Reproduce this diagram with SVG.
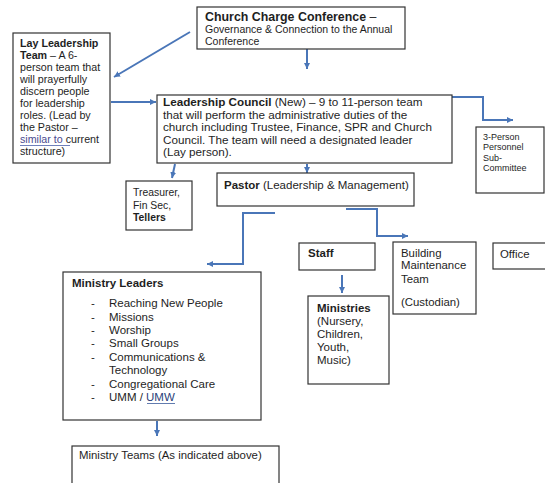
<svg xmlns="http://www.w3.org/2000/svg" width="545" height="483" viewBox="0 0 545 483">
<style>
.box{fill:#fff;stroke:#333;stroke-width:1.2}
.t{font-family:"Liberation Sans",Arial,sans-serif;fill:#1e1e1e}
.b{font-weight:bold}
.c{fill:none;stroke:#4a76b8;stroke-width:2;marker-end:url(#ah)}
</style>
<defs>
<marker id="ah" markerUnits="userSpaceOnUse" markerWidth="8" markerHeight="8" refX="6" refY="3" orient="auto">
<path d="M0,0 L6,3 L0,6 Z" fill="#4a76b8"/>
</marker>
</defs>
<rect width="545" height="483" fill="#fff"/>

<g id="connectors">
<line class="c" x1="190" y1="32" x2="114" y2="77"/>
<line class="c" x1="307" y1="49" x2="307" y2="69"/>
<line class="c" x1="111" y1="102" x2="156" y2="102"/>
<polyline class="c" points="452,97 483,97 483,120 513,120"/>
<line class="c" x1="175" y1="164" x2="172" y2="178"/>
<line class="c" x1="307" y1="164" x2="307" y2="173"/>
<polyline class="c" points="275,213 243,213 243,264 207,264"/>
<polyline class="c" points="346,209 377,209 377,236 408,236"/>
<line class="c" x1="342" y1="275" x2="342" y2="293"/>
<line class="c" x1="157" y1="421" x2="157" y2="436"/>
</g>

<g id="church-charge-conference">
<rect class="box" x="197" y="7" width="208" height="42"/>
<text class="t b" x="205" y="21" font-size="12.4">Church Charge Conference <tspan font-weight="normal">–</tspan></text>
<text class="t" x="205" y="33" font-size="10.5">Governance &amp; Connection to the Annual</text>
<text class="t" x="205" y="44.5" font-size="10.5">Conference</text>
</g>

<g id="lay-leadership-team">
<rect class="box" x="13" y="33" width="97" height="130"/>
<g class="t" font-size="10.7">
<text x="20" y="47" class="b">Lay Leadership</text>
<text x="20" y="59"><tspan font-weight="bold">Team</tspan> – A 6-</text>
<text x="20" y="71">person team that</text>
<text x="20" y="83">will prayerfully</text>
<text x="20" y="95">discern people</text>
<text x="20" y="107">for leadership</text>
<text x="20" y="119">roles. (Lead by</text>
<text x="20" y="131">the Pastor –</text>
<text x="20" y="143"><tspan fill="#4b4b8f">similar to</tspan> current</text>
<text x="20" y="155">structure)</text>
</g>
<line x1="20" y1="145.5" x2="70" y2="145.5" stroke="#4b5fa8" stroke-width="0.8"/>
</g>

<g id="leadership-council">
<rect class="box" x="157" y="95" width="295" height="68"/>
<g class="t" font-size="11.7">
<text x="163" y="106"><tspan font-weight="bold">Leadership Council</tspan> (New) – 9 to 11-person team</text>
<text x="163" y="118.6">that will perform the administrative duties of the</text>
<text x="163" y="131.2">church including Trustee, Finance, SPR and Church</text>
<text x="163" y="143.8">Council. The team will need a designated leader</text>
<text x="163" y="156.4">(Lay person).</text>
</g>
</g>

<g id="personnel-subcommittee">
<rect class="box" x="476" y="127" width="68" height="66"/>
<g class="t" font-size="9">
<text x="483" y="139.5">3-Person</text>
<text x="483" y="150">Personnel</text>
<text x="483" y="160.5">Sub-</text>
<text x="483" y="171">Committee</text>
</g>
</g>

<g id="treasurer">
<rect class="box" x="126" y="181" width="66" height="49"/>
<g class="t" font-size="10.4">
<text x="133" y="196">Treasurer,</text>
<text x="133" y="209">Fin Sec,</text>
<text x="133" y="221" class="b">Tellers</text>
</g>
</g>

<g id="pastor">
<rect class="box" x="217" y="173" width="197" height="33"/>
<text class="t" x="224" y="189" font-size="11.5"><tspan font-weight="bold">Pastor</tspan> (Leadership &amp; Management)</text>
</g>

<g id="staff">
<rect class="box" x="299" y="243" width="76" height="27"/>
<text class="t b" x="308" y="257" font-size="11.5">Staff</text>
</g>

<g id="building-maintenance">
<rect class="box" x="393" y="242" width="83" height="72"/>
<g class="t" font-size="11.4">
<text x="401" y="257">Building</text>
<text x="401" y="269">Maintenance</text>
<text x="401" y="283">Team</text>
<text x="401" y="306">(Custodian)</text>
</g>
</g>

<g id="office">
<rect class="box" x="493" y="243" width="55" height="26"/>
<text class="t" x="500" y="258" font-size="11.4">Office</text>
</g>

<g id="ministries">
<rect class="box" x="308" y="296" width="81" height="88"/>
<g class="t" font-size="11.5">
<text x="317" y="312" class="b">Ministries</text>
<text x="317" y="325">(Nursery,</text>
<text x="317" y="338">Children,</text>
<text x="317" y="351">Youth,</text>
<text x="317" y="364">Music)</text>
</g>
</g>

<g id="ministry-leaders">
<rect class="box" x="63" y="272" width="198" height="148"/>
<g class="t" font-size="11.5">
<text x="72" y="287" class="b">Ministry Leaders</text>
<text x="91" y="307">-</text><text x="109" y="307">Reaching New People</text>
<text x="91" y="321">-</text><text x="109" y="321">Missions</text>
<text x="91" y="334">-</text><text x="109" y="334">Worship</text>
<text x="91" y="347">-</text><text x="109" y="347">Small Groups</text>
<text x="91" y="361">-</text><text x="109" y="361">Communications &amp;</text>
<text x="109" y="374">Technology</text>
<text x="91" y="388">-</text><text x="109" y="388">Congregational Care</text>
<text x="91" y="401">-</text><text x="109" y="401">UMM / <tspan fill="#2a3f7a">UMW</tspan></text>
</g>
<line x1="147" y1="403.5" x2="175" y2="403.5" stroke="#3a5a9a" stroke-width="0.8"/>
</g>

<g id="ministry-teams">
<rect class="box" x="72" y="446" width="207" height="40"/>
<text class="t" x="79" y="459" font-size="11.4">Ministry Teams (As indicated above)</text>
</g>
</svg>
